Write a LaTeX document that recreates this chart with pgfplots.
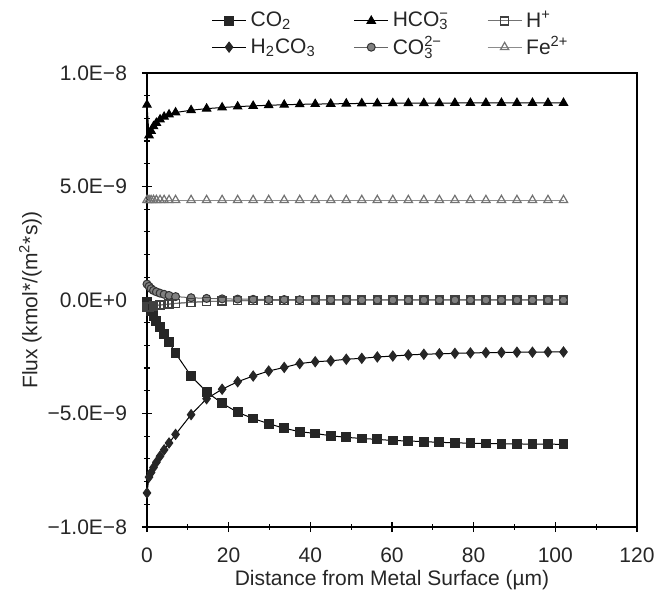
\documentclass[border=0pt]{standalone}
\usepackage{pgfplots}
\pgfplotsset{compat=1.18}
\usepackage{pgfplotstable}
\usepackage{fontspec}
\setmainfont{Liberation Sans}

\pgfplotstableread{
x      co2    hco3  hp     h2co3  co3   fe
0      -0.10  8.60  -0.30  -8.50  0.70  4.40
0.5    -0.30  7.25  -0.30  -7.80  0.60  4.40
1.0    -0.50  7.45  -0.28  -7.60  0.50  4.40
1.6    -0.70  7.65  -0.26  -7.38  0.42  4.40
2.3    -0.92  7.80  -0.24  -7.15  0.36  4.40
3.2    -1.20  7.95  -0.22  -6.88  0.30  4.40
4.2    -1.50  8.07  -0.20  -6.60  0.25  4.40
5.4    -1.85  8.17  -0.18  -6.30  0.20  4.40
7.0    -2.35  8.26  -0.15  -5.92  0.15  4.40
10.8   -3.35  8.36  -0.10  -5.05  0.10  4.40
14.6   -4.05  8.43  -0.07  -4.35  0.07  4.40
18.4   -4.55  8.48  -0.05  -3.93  0.05  4.40
22.2   -4.95  8.52  -0.03  -3.60  0.04  4.40
26.0   -5.22  8.55  -0.02  -3.35  0.03  4.40
29.8   -5.45  8.58  -0.02  -3.13  0.02  4.40
33.6   -5.65  8.60  -0.01  -2.97  0.02  4.40
37.4   -5.80  8.62  -0.01  -2.80  0.01  4.40
41.2   -5.88  8.63  0.00   -2.72  0.01  4.40
45.0   -5.98  8.64  0.00   -2.68  0.01  4.40
48.8   -6.05  8.65  0.00   -2.61  0.00  4.40
52.6   -6.10  8.66  0.00   -2.57  0.00  4.40
56.4   -6.14  8.66  0.00   -2.51  0.00  4.40
60.2   -6.19  8.67  0.00   -2.47  0.00  4.40
64.0   -6.21  8.67  0.00   -2.42  0.00  4.40
67.8   -6.24  8.67  0.00   -2.39  0.00  4.40
71.6   -6.27  8.67  0.00   -2.37  0.00  4.40
75.4   -6.29  8.68  0.00   -2.35  0.00  4.40
79.2   -6.31  8.68  0.00   -2.33  0.00  4.40
83.0   -6.32  8.68  0.00   -2.32  0.00  4.40
86.8   -6.33  8.68  0.00   -2.31  0.00  4.40
90.6   -6.34  8.68  0.00   -2.30  0.00  4.40
94.4   -6.35  8.68  0.00   -2.30  0.00  4.40
98.2   -6.35  8.68  0.00   -2.29  0.00  4.40
102.0  -6.36  8.68  0.00   -2.29  0.00  4.40
}\fluxdata

\begin{document}
\begin{tikzpicture}
\begin{axis}[
  scale only axis,
  width=245pt, height=227pt,
  xmin=0, xmax=120, ymin=-10, ymax=10,
  xtick={0,20,...,120},
  ytick={-10,-5,0,5,10},
  yticklabels={−1.0E−8,−5.0E−9,0.0E+0,5.0E−9,1.0E−8},
  minor x tick num=1,
  minor y tick num=4,
  xtick pos=left, ytick pos=left,
  tick align=center,
  major tick length=5pt, minor tick length=3pt,
  tick style={black, line width=0.6pt},
  axis line style={line width=0.8pt},
  /pgf/number format/assume math mode=true,
  tick label style={font=\fontsize{10.5}{12}\selectfont, text=black!85},
  label style={font=\fontsize{10.5}{12}\selectfont, text=black!85},
  xlabel={Distance from Metal Surface (µm)},
  ylabel={Flux (kmol*/(m\textsuperscript{2}*s))},
  xticklabel style={yshift=-4.5pt},
  yticklabel style={xshift=-4pt},
  xlabel style={yshift=3pt},
  ylabel style={yshift=-4pt},
  legend columns=3,
  legend style={draw=none, fill=none, at={(0.5,1.015)}, anchor=south,
    font=\fontsize{10.5}{12}\selectfont, text=black!85,
    /tikz/every even column/.append style={column sep=17pt},
    row sep=-1pt},
  legend cell align=left,
  every axis plot/.append style={line width=0.5pt, mark size=2pt},
]
\addplot[black, mark=square*, mark size=2.2pt, mark options={fill=black!85, draw=black!85}] table[x=x,y=co2]{\fluxdata};
\addlegendentry{CO\textsubscript{2}}
\addplot[black, mark=triangle*, mark size=2.4pt, mark options={fill=black, draw=black}] table[x=x,y=hco3]{\fluxdata};
\addlegendentry{HCO\rlap{\textsubscript{3}}\textsuperscript{−}}
\addplot[black!55, mark=square, mark options={fill=white, draw=black!75, line width=0.7pt}] table[x=x,y=hp]{\fluxdata};
\addlegendentry{H\textsuperscript{+}}
\addplot[black, mark=diamond*, mark size=2.5pt, mark options={fill=black!85, draw=black!85}] table[x=x,y=h2co3]{\fluxdata};
\addlegendentry{H\textsubscript{2}CO\textsubscript{3}}
\addplot[black!60, mark=*, mark options={fill=black!50, draw=black!80}] table[x=x,y=co3]{\fluxdata};
\addlegendentry{CO\rlap{\textsubscript{3}}\textsuperscript{2−}}
\addplot[black!45, mark=triangle, mark size=2.4pt, mark options={fill=white, draw=black!55, line width=0.6pt}] table[x=x,y=fe]{\fluxdata};
\addlegendentry{Fe\textsuperscript{2+}}
\addplot[black!55, mark=square, forget plot, mark options={fill=white, draw=black!75, line width=0.7pt}] table[x=x,y=hp]{\fluxdata};
\coordinate (sw) at (rel axis cs:0,0);
\coordinate (ne) at (rel axis cs:1,1);
\end{axis}
\pgfresetboundingbox
\path[use as bounding box] ([xshift=-73.5pt,yshift=-33.5pt]sw) rectangle ([xshift=11pt,yshift=36.5pt]ne);
\end{tikzpicture}
\end{document}
